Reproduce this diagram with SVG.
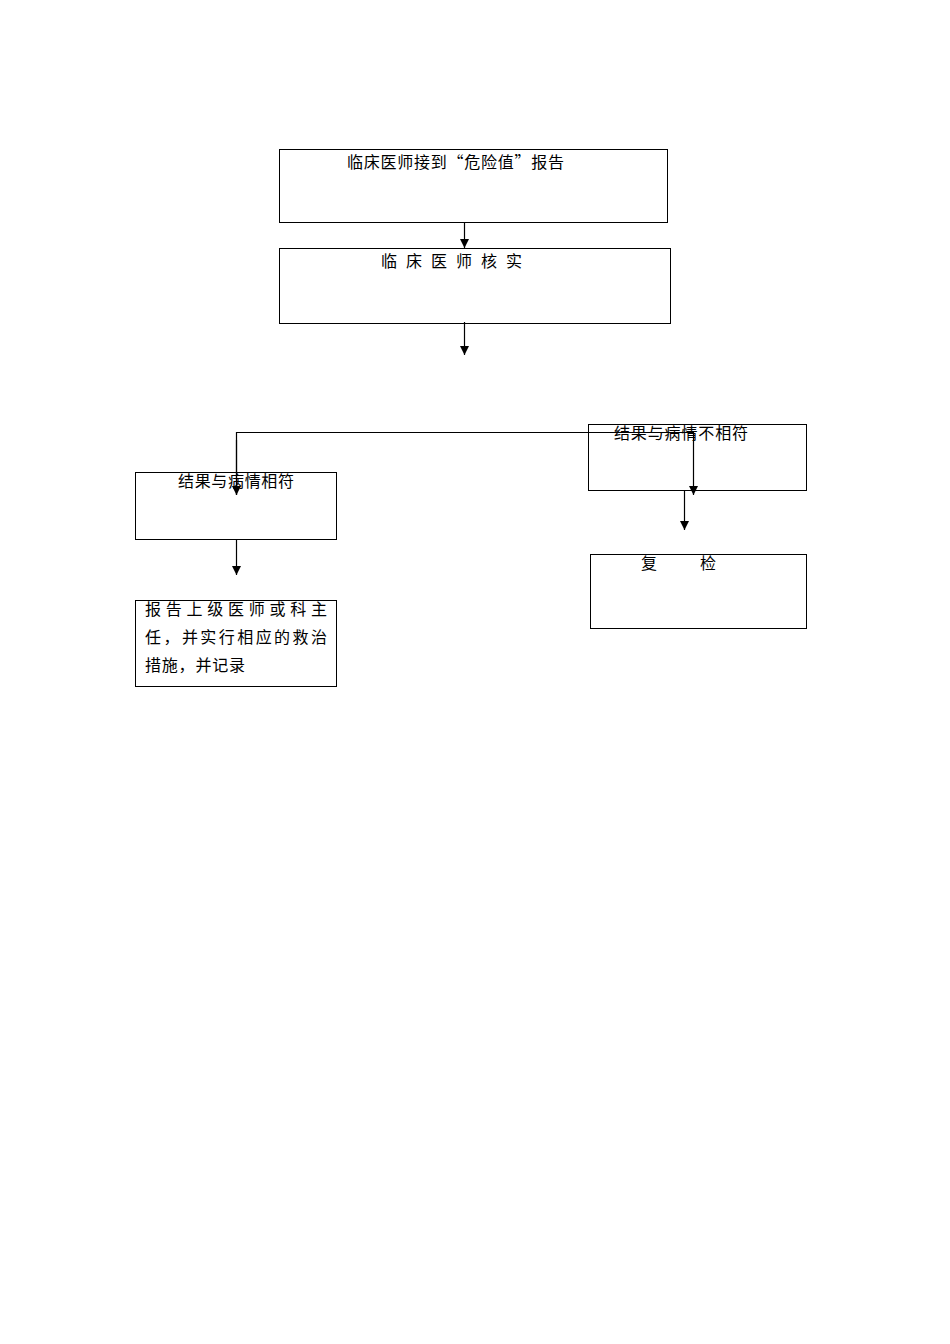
<svg xmlns="http://www.w3.org/2000/svg" width="950" height="1344" viewBox="0 0 950 1344">
<style>
.box{fill:#fff;stroke:#000;stroke-width:1}
.t{font-family:"Liberation Sans","Noto Sans CJK SC",sans-serif;font-size:16px;fill:#000}
.q{font-family:"Noto Sans CJK SC","Liberation Sans",sans-serif}
.c{fill:none;stroke:#000;stroke-width:1.2}
</style>
<defs>
<marker id="ah" viewBox="0 0 10 10" refX="10" refY="5" markerWidth="9" markerHeight="9" markerUnits="userSpaceOnUse" orient="auto">
<path d="M0,0 L10,5 L0,10 z" fill="#000"/>
</marker>
</defs>
<rect width="950" height="1344" fill="#fff"/>
<g id="n1"><rect class="box" x="279.5" y="149.5" width="388" height="73"/>
<text class="t q" x="347" y="168" textLength="217" lengthAdjust="spacing">临床医师接到“危险值”报告</text></g>
<g id="n2"><rect class="box" x="279.5" y="248.5" width="391" height="75"/>
<text class="t" x="381" y="267" textLength="141" lengthAdjust="spacing">临床医师核实</text></g>
<g id="n3"><rect class="box" x="588.5" y="424.5" width="218" height="66"/>
<text class="t" x="614" y="439" textLength="134" lengthAdjust="spacing">结果与病情不相符</text></g>
<g id="n4"><rect class="box" x="135.5" y="472.5" width="201" height="67"/>
<text class="t" x="178" y="487" textLength="116" lengthAdjust="spacing">结果与病情相符</text></g>
<g id="n5"><rect class="box" x="135.5" y="600.5" width="201" height="86"/>
<text class="t" x="145" y="615" textLength="182" lengthAdjust="spacing">报告上级医师或科主</text>
<text class="t" x="145" y="643" textLength="182" lengthAdjust="spacing">任，并实行相应的救治</text>
<text class="t" x="145" y="671" textLength="100" lengthAdjust="spacing">措施，并记录</text></g>
<g id="n6"><rect class="box" x="590.5" y="554.5" width="216" height="74"/>
<text class="t" x="641" y="569">复</text>
<text class="t" x="700" y="569">检</text></g>
<g id="connectors">
<line class="c" x1="464.5" y1="222" x2="464.5" y2="248" marker-end="url(#ah)"/>
<line class="c" x1="464.5" y1="322" x2="464.5" y2="355" marker-end="url(#ah)"/>
<polyline class="c" points="236.5,495 236.5,432.5 693.5,432.5 693.5,495" marker-end="url(#ah)"/>
<line class="c" x1="236.5" y1="440" x2="236.5" y2="495" marker-end="url(#ah)"/>
<line class="c" x1="236.5" y1="539" x2="236.5" y2="575" marker-end="url(#ah)"/>
<line class="c" x1="684.5" y1="490" x2="684.5" y2="530" marker-end="url(#ah)"/>
</g>
</svg>
